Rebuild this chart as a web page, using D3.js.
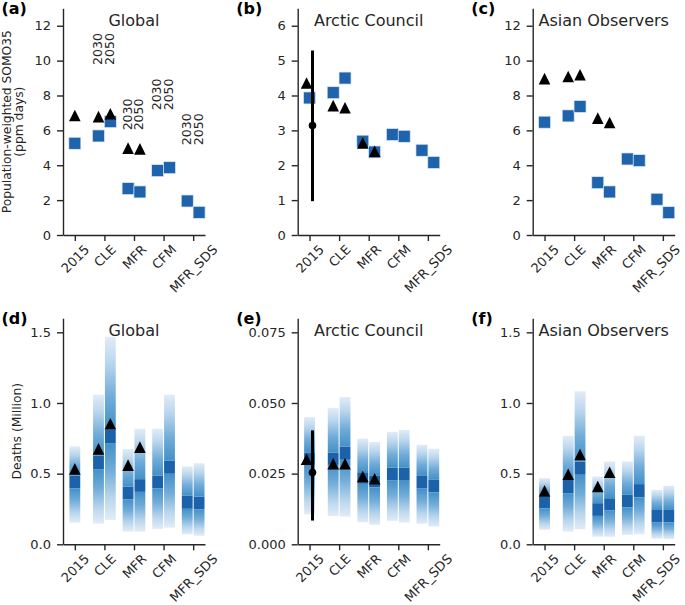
<!DOCTYPE html>
<html><head><meta charset="utf-8">
<script src="https://cdn.jsdelivr.net/npm/d3@7"></script>
<style>
body{margin:0;background:#fff}
text{font-family:"DejaVu Sans",sans-serif}
</style>
</head><body><svg id="c" width="685" height="605"></svg>
<script>
// ---------------- data ----------------
const categories = ["2015", "CLE", "MFR", "CFM", "MFR_SDS"];
const yearLabels = ["2030", "2050"];

// Population-weighted SOMO35 (ppm days); per scenario: [2015] or [2030, 2050]
const somoGlobalBlue  = [[5.26], [5.68, 6.50], [2.66, 2.47], [3.69, 3.86], [1.95, 1.30]];
const somoGlobalBlack = [[6.85], [6.79, 6.95], [4.98, 4.94], [], []];
const somoArcticBlue  = [[3.93], [4.08, 4.50], [2.69, 2.38], [2.88, 2.83], [2.43, 2.08]];
const somoArcticBlack = [[4.36], [3.71, 3.65], [2.64, 2.40], [], []];
const somoArcticObs   = [3.14, 0.97, 5.29];   // mean, low, high
const somoAsianBlue   = [[6.47], [6.83, 7.37], [3.00, 2.47], [4.36, 4.27], [2.05, 1.28]];
const somoAsianBlack  = [[8.97], [9.09, 9.19], [6.70, 6.45], [], []];
const yearLabelHeights = [null, 9.75, 6.0, 7.15, 5.15];

// Deaths (Million): boxes [min, inner-box low, inner-box high, max]
const deathsGlobalBoxes = [
  [[0.154, 0.397, 0.487, 0.693]],
  [[0.147, 0.532, 0.629, 1.059], [0.173, 0.716, 0.811, 1.468]],
  [[0.090, 0.319, 0.409, 0.674], [0.090, 0.371, 0.461, 0.818]],
  [[0.109, 0.397, 0.487, 0.818], [0.118, 0.499, 0.591, 1.059]],
  [[0.071, 0.251, 0.343, 0.551], [0.061, 0.248, 0.338, 0.574]]
];
const deathsGlobalBlack = [[0.534], [0.675, 0.853], [0.560, 0.688], [], []];
const deathsArcticBoxes = [
  [[0.0106, 0.0281, 0.0325, 0.0450]],
  [[0.0100, 0.0281, 0.0325, 0.0482], [0.0098, 0.0299, 0.0346, 0.0521]],
  [[0.0078, 0.0214, 0.0255, 0.0374], [0.0069, 0.0201, 0.0244, 0.0362]],
  [[0.0083, 0.0227, 0.0271, 0.0398], [0.0077, 0.0225, 0.0271, 0.0405]],
  [[0.0073, 0.0197, 0.0244, 0.0352], [0.0063, 0.0184, 0.0228, 0.0338]]
];
const deathsArcticBlack = [[0.0301], [0.0285, 0.0285], [0.0240, 0.0232], [], []];
const deathsArcticObs   = [0.0254, 0.0084, 0.0403];
const deathsAsianBoxes = [
  [[0.102, 0.255, 0.338, 0.468]],
  [[0.090, 0.362, 0.456, 0.768], [0.106, 0.492, 0.586, 1.083]],
  [[0.054, 0.201, 0.291, 0.480], [0.054, 0.239, 0.326, 0.586]],
  [[0.066, 0.262, 0.350, 0.586], [0.071, 0.333, 0.426, 0.768]],
  [[0.040, 0.154, 0.243, 0.385], [0.038, 0.154, 0.243, 0.414]]
];
const deathsAsianBlack = [[0.378], [0.496, 0.636], [0.409, 0.510], [], []];

const ticksSomo12 = [0, 2, 4, 6, 8, 10, 12];
const ticksSomo6 = [0, 1, 2, 3, 4, 5, 6];
const ticksDeaths = [0, 0.5, 1.0, 1.5];
const ticksDeathsArctic = [0, 0.025, 0.05, 0.075];

// ---------------- drawing ----------------
const svg = d3.select("#c");
const INK = "#262626";
const BLUE = "#1f63ad";
const DARK = "#1b62aa";
const SVG_W = 685;

const defs = svg.append("defs");
function grad(id, y1, y2) {
  const g = defs.append("linearGradient").attr("id", id)
    .attr("x1", 0).attr("x2", 0).attr("y1", y1).attr("y2", y2);
  [[0, "#4490c7"], [0.35, "#70acd8"], [0.72, "#bad6ed"], [1, "#e1ecf7"]]
    .forEach(([o, c]) => g.append("stop").attr("offset", o).attr("stop-color", c));
}
grad("gUp", 1, 0);
grad("gDown", 0, 1);

const panelW = 142;
const lefts = [63, 297.7, 532.7];
const rows = [{top: 8.3, bottom: 235}, {top: 318.2, bottom: 544.3}];

function xOf(i, j, n) { return n === 1 ? i : i + (j === 0 ? -0.2 : 0.2); }

function drawPanel(cfg) {
  const L = lefts[cfg.col], R = rows[cfg.row];
  const x = d3.scaleLinear().domain([-0.4, 4.4]).range([L, L + panelW]);
  const y = d3.scaleLinear().domain([0, cfg.ymax]).range([R.bottom, R.top]);
  const g = svg.append("g");

  // boxes (letter-value style)
  if (cfg.boxes) {
    const bw = x(0.4) - x(0);
    cfg.boxes.forEach((grp, i) => grp.forEach((b, j) => {
      const cx = x(xOf(i, j, grp.length));
      const x0 = cx - bw / 2 + 0.5, w = bw - 1;
      g.append("rect").attr("x", x0).attr("width", w)
        .attr("y", y(b[2])).attr("height", y(b[1]) - y(b[2])).attr("fill", DARK);
      g.append("rect").attr("x", x0).attr("width", w)
        .attr("y", y(b[3])).attr("height", y(b[2]) - y(b[3])).attr("fill", "url(#gUp)");
      g.append("rect").attr("x", x0).attr("width", w)
        .attr("y", y(b[1])).attr("height", y(b[0]) - y(b[1])).attr("fill", "url(#gDown)");
    }));
  }
  // squares
  if (cfg.blue) {
    cfg.blue.forEach((grp, i) => grp.forEach((v, j) => {
      const cx = x(xOf(i, j, grp.length));
      g.append("rect").attr("x", cx - 6).attr("y", y(v) - 6).attr("width", 12).attr("height", 12)
        .attr("fill", BLUE).attr("stroke", "#dfe8f3").attr("stroke-width", 0.7);
    }));
  }
  // triangles
  cfg.black.forEach((grp, i) => grp.forEach((v, j) => {
    let xv = xOf(i, j, grp.length);
    if (grp.length === 1 && cfg.obs) xv += -0.1;
    g.append("path").attr("d", "M0,-5.8L5.8,5.8L-5.8,5.8Z")
      .attr("transform", `translate(${x(xv)},${y(v)})`).attr("fill", "#000");
  }));
  // observation with error bar
  if (cfg.obs) {
    const ox = x(0.1);
    g.append("line").attr("x1", ox).attr("x2", ox).attr("y1", y(cfg.obs[1])).attr("y2", y(cfg.obs[2]))
      .attr("stroke", "#000").attr("stroke-width", 3);
    g.append("circle").attr("cx", ox).attr("cy", y(cfg.obs[0])).attr("r", 3.8).attr("fill", "#000");
  }
  // year annotations
  if (cfg.yearText) {
    cfg.yearText.forEach((h, i) => {
      if (h == null) return;
      yearLabels.forEach((t, j) => {
        g.append("text").text(t)
          .attr("transform", `translate(${x(xOf(i, j, 2)) - 1},${y(h)}) rotate(-90)`)
          .attr("dominant-baseline", "central").attr("font-size", 12.5).attr("fill", INK);
      });
    });
  }

  // axes
  const ya = g.append("g").attr("transform", `translate(${L},0)`)
    .call(d3.axisLeft(y).tickValues(cfg.ticks).tickFormat(cfg.fmt).tickSize(6).tickPadding(6).tickSizeOuter(0));
  const xa = g.append("g").attr("transform", `translate(0,${R.bottom})`)
    .call(d3.axisBottom(x).tickValues([0, 1, 2, 3, 4]).tickFormat(i => categories[i]).tickSize(6).tickSizeOuter(0));
  [ya, xa].forEach(a => {
    a.attr("font-size", 13).attr("font-family", "DejaVu Sans").attr("color", INK);
    a.selectAll("path,line").attr("stroke-width", 1.4);
  });
  xa.selectAll("text").each(function () {
    const t = d3.select(this);
    t.attr("y", 0).attr("dy", null).attr("text-anchor", "middle").attr("dominant-baseline", "central");
    const w = this.getComputedTextLength();
    const cy = 8 + (w + 12) * 0.7071 / 2;
    t.attr("transform", `translate(0,${cy}) rotate(-45)`);
    // keep the label inside the picture at the right edge
    const bb = this.getBoundingClientRect();
    const over = bb.right - (SVG_W - 2);
    if (over > 0) t.attr("transform", `translate(${-over},${cy}) rotate(-45)`);
  });

  // title and letter
  g.append("text").text(cfg.title).attr("x", (L + L + panelW) / 2).attr("y", R.top + 17.5)
    .attr("text-anchor", "middle").attr("font-size", 16).attr("fill", INK);
  g.append("text").text(cfg.letter).attr("x", L - 61.5).attr("y", R.top + 6)
    .attr("font-size", 16).attr("font-weight", "bold").attr("fill", "#000");
}

const f1 = d => d3.format(".1f")(d), f3 = d => d3.format(".3f")(d), f0 = d => d3.format("d")(d);

drawPanel({row: 0, col: 0, letter: "(a)", title: "Global", ymax: 13, ticks: ticksSomo12, fmt: f0,
  blue: somoGlobalBlue, black: somoGlobalBlack, yearText: yearLabelHeights});
drawPanel({row: 0, col: 1, letter: "(b)", title: "Arctic Council", ymax: 6.5, ticks: ticksSomo6, fmt: f0,
  blue: somoArcticBlue, black: somoArcticBlack, obs: somoArcticObs});
drawPanel({row: 0, col: 2, letter: "(c)", title: "Asian Observers", ymax: 13, ticks: ticksSomo12, fmt: f0,
  blue: somoAsianBlue, black: somoAsianBlack});
drawPanel({row: 1, col: 0, letter: "(d)", title: "Global", ymax: 1.6, ticks: ticksDeaths, fmt: f1,
  boxes: deathsGlobalBoxes, black: deathsGlobalBlack});
drawPanel({row: 1, col: 1, letter: "(e)", title: "Arctic Council", ymax: 0.08, ticks: ticksDeathsArctic, fmt: f3,
  boxes: deathsArcticBoxes, black: deathsArcticBlack, obs: deathsArcticObs});
drawPanel({row: 1, col: 2, letter: "(f)", title: "Asian Observers", ymax: 1.6, ticks: ticksDeaths, fmt: f1,
  boxes: deathsAsianBoxes, black: deathsAsianBlack});

// y-axis labels
function ylab(lines, xs, cy) {
  lines.forEach((s, k) => svg.append("text").text(s)
    .attr("transform", `translate(${xs[k]},${cy}) rotate(-90)`)
    .attr("text-anchor", "middle").attr("dominant-baseline", "central")
    .attr("font-size", 12.3).attr("fill", INK));
}
ylab(["Population-weighted SOMO35", "(ppm days)"], [6.5, 19], (rows[0].top + rows[0].bottom) / 2);
ylab(["Deaths (Million)"], [16.7], (rows[1].top + rows[1].bottom) / 2);
</script></body></html>
